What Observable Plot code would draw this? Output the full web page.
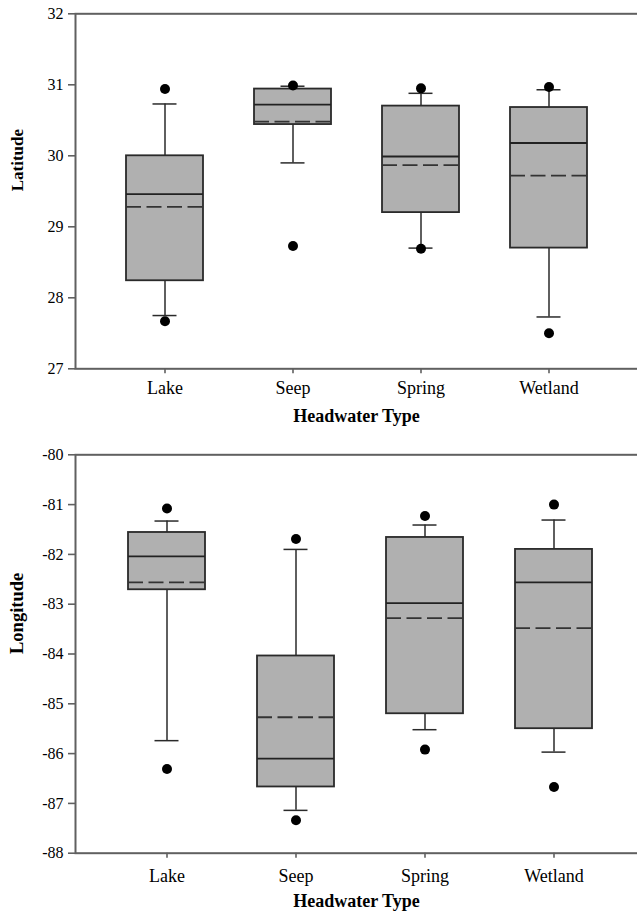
<!DOCTYPE html>
<html>
<head>
<meta charset="utf-8">
<script src="https://cdn.jsdelivr.net/npm/d3@7"></script>
<script src="https://cdn.jsdelivr.net/npm/@observablehq/plot@0.6"></script>
<style>
  html, body { margin: 0; padding: 0; background: #fff; }
  #chart svg { display: block; font-family: "Liberation Serif", "Times New Roman", serif !important; }
  #chart svg text { font-family: "Liberation Serif", "Times New Roman", serif !important; fill: #000; }
</style>
</head>
<body>
<div id="chart"></div>
<script>
// Categories
const types = ["Lake", "Seep", "Spring", "Wetland"];

// Latitude panel (box-plot statistics)
const latOutHigh     = [30.94, 30.99, 30.95, 30.97];
const latWhiskerHigh = [30.73, 30.98, 30.88, 30.93];
const latQ3          = [30.00, 30.94, 30.70, 30.68];
const latMedian      = [29.46, 30.72, 29.99, 30.18];
const latMean        = [29.28, 30.48, 29.87, 29.72];
const latQ1          = [28.24, 30.44, 29.20, 28.70];
const latWhiskerLow  = [27.75, 29.90, 28.70, 27.73];
const latOutLow      = [27.67, 28.73, 28.69, 27.50];
const latTicks = [27, 28, 29, 30, 31, 32];

// Longitude panel
const lonOutHigh     = [-81.08, -81.69, -81.23, -81.00];
const lonWhiskerHigh = [-81.33, -81.90, -81.41, -81.31];
const lonQ3          = [-81.56, -84.04, -81.66, -81.90];
const lonMedian      = [-82.04, -86.10, -82.98, -82.56];
const lonMean        = [-82.56, -85.27, -83.28, -83.48];
const lonQ1          = [-82.71, -86.67, -85.20, -85.50];
const lonWhiskerLow  = [-85.74, -87.14, -85.52, -85.97];
const lonOutLow      = [-86.31, -87.34, -85.92, -86.67];
const lonTicks = [-88, -87, -86, -85, -84, -83, -82, -81, -80];

const xTitle = "Headwater Type";
const FONT = "Liberation Serif, Times New Roman, serif";

function table(s) {
  return types.map((t, i) => ({
    type: t, outHigh: s.outHigh[i], wHigh: s.wHigh[i], q3: s.q3[i], median: s.median[i],
    mean: s.mean[i], q1: s.q1[i], wLow: s.wLow[i], outLow: s.outLow[i]
  }));
}

function panel(cfg) {
  const data = table(cfg.stats);
  const dots = data.flatMap(d => [{type: d.type, v: d.outHigh}, {type: d.type, v: d.outLow}]);
  return Plot.plot({
    width: 637,
    height: cfg.height,
    marginTop: cfg.marginTop,
    marginBottom: cfg.marginBottom,
    marginLeft: 75,
    marginRight: -6,
    x: {type: "band", domain: types, range: cfg.xRange, paddingInner: 0.4, paddingOuter: 0.2, label: null},
    y: {domain: cfg.yDomain, label: null},
    marks: [
      Plot.frame({stroke: "#606060", strokeWidth: 2}),
      Plot.axisY({ticks: cfg.ticks, tickSize: 7, tickPadding: 5, tickFormat: d => String(d), stroke: "#606060", strokeWidth: 1.6, fontSize: 16, fontFamily: FONT, label: null}),
      Plot.axisX({tickSize: 5, tickPadding: cfg.xPad, stroke: "#606060", strokeWidth: 1.6, fontSize: 18, fontFamily: FONT, label: null}),
      Plot.ruleX(data, {x: "type", y1: "q3", y2: "wHigh", stroke: "#2a2a2a", strokeWidth: 1.5}),
      Plot.ruleX(data, {x: "type", y1: "wLow", y2: "q1", stroke: "#2a2a2a", strokeWidth: 1.5}),
      Plot.tickY(data, {x: "type", y: "wHigh", stroke: "#2a2a2a", strokeWidth: 1.5, insetLeft: 26.5, insetRight: 26.5}),
      Plot.tickY(data, {x: "type", y: "wLow", stroke: "#2a2a2a", strokeWidth: 1.5, insetLeft: 26.5, insetRight: 26.5}),
      Plot.barY(data, {x: "type", y1: "q1", y2: "q3", fill: "#b0b0b0", stroke: "#2a2a2a", strokeWidth: 1.8}),
      Plot.tickY(data, {x: "type", y: "median", stroke: "#222", strokeWidth: 1.8}),
      Plot.tickY(data, {x: "type", y: "mean", stroke: "#333", strokeWidth: 1.8, strokeDasharray: "15,5.5"}),
      Plot.dot(dots, {x: "type", y: "v", r: 5, fill: "#000", stroke: "none"}),
      Plot.text([cfg.yTitle], {frameAnchor: "left", dx: -58, rotate: -90, fontWeight: "bold", fontSize: cfg.yTitleSize, fontFamily: FONT, fill: "#000"}),
      Plot.text([xTitle], {frameAnchor: "bottom", dx: -3, dy: cfg.titleDy, fontWeight: "bold", fontSize: 18, fontFamily: FONT, fill: "#000"})
    ]
  });
}

const latPlot = panel({
  height: 440, marginTop: 13.3, marginBottom: 71.7,
  xRange: [100.2, 613.4], yDomain: [27, 32], ticks: latTicks, xPad: 7, titleDy: 53,
  yTitle: "Latitude", yTitleSize: 17,
  stats: {outHigh: latOutHigh, wHigh: latWhiskerHigh, q3: latQ3, median: latMedian, mean: latMean, q1: latQ1, wLow: latWhiskerLow, outLow: latOutLow}
});
const lonPlot = panel({
  height: 476, marginTop: 14.3, marginBottom: 63.3,
  xRange: [101, 618.6], yDomain: [-88, -80], ticks: lonTicks, xPad: 11, titleDy: 54,
  yTitle: "Longitude", yTitleSize: 18.5,
  stats: {outHigh: lonOutHigh, wHigh: lonWhiskerHigh, q3: lonQ3, median: lonMedian, mean: lonMean, q1: lonQ1, wLow: lonWhiskerLow, outLow: lonOutLow}
});
document.getElementById("chart").append(latPlot, lonPlot);
</script>
</body>
</html>
